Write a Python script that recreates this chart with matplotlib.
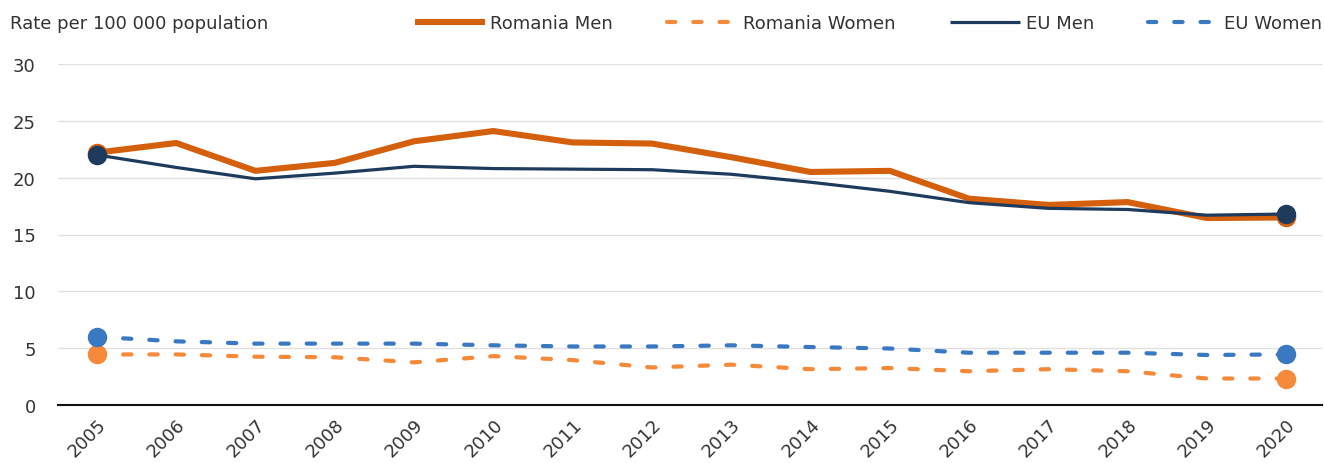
import matplotlib
matplotlib.use("Agg")
import matplotlib.pyplot as plt

plt.rcParams['font.family'] = ['Liberation Sans Narrow', 'DejaVu Sans']

years = list(range(2005, 2021))
romania_men = [22.2, 23.05, 20.6, 21.3, 23.2, 24.1, 23.1, 23.0, 21.8, 20.5, 20.6, 18.15, 17.6, 17.85, 16.45, 16.5]
romania_women = [4.45, 4.45, 4.25, 4.2, 3.75, 4.3, 3.95, 3.3, 3.55, 3.15, 3.25, 2.97, 3.15, 2.97, 2.33, 2.33]
eu_men = [22.0, 20.9, 19.9, 20.4, 21.0, 20.8, 20.75, 20.7, 20.3, 19.6, 18.8, 17.8, 17.3, 17.2, 16.7, 16.8]
eu_women = [6.0, 5.6, 5.4, 5.4, 5.4, 5.25, 5.15, 5.15, 5.25, 5.1, 4.97, 4.6, 4.6, 4.6, 4.4, 4.45]

TEXT = "#333333"
C_RO_MEN = "#D45F0C"
C_RO_WOMEN = "#F58A3A"
C_EU_MEN = "#1E3A5C"
C_EU_WOMEN = "#3A78C2"

fig = plt.figure(figsize=(13.24, 4.64), dpi=100)
ax = fig.add_axes([58 / 1324, 1 - 406 / 464, 1264 / 1324, (406 - 65) / 464])

x = list(range(len(years)))

series = [
    ("Romania Men", romania_men, C_RO_MEN, 4.4, "-", 2),
    ("Romania Women", romania_women, C_RO_WOMEN, 3.0, "--", 2),
    ("EU Men", eu_men, C_EU_MEN, 2.3, "-", 3),
    ("EU Women", eu_women, C_EU_WOMEN, 3.0, "--", 3),
]

for label, vals, color, lw, ls, z in series:
    line, = ax.plot(x, vals, color=color, lw=lw, ls=ls, label=label,
                    solid_capstyle="butt", dash_capstyle="round", zorder=z)
    if ls == "--":
        line.set_dashes((2.0, 4.3))
    # end markers on first and last year
    ax.plot([x[0], x[-1]], [vals[0], vals[-1]], "o", color=color, ms=13,
            mec=color, zorder=z + 2)

ax.set_xlim(-0.49, 15.45)
ax.set_ylim(0, 30)
ax.set_yticks(range(0, 31, 5))
ax.set_xticks(x)
ax.set_xticklabels([str(y) for y in years], rotation=45, ha="right",
                   rotation_mode="anchor")
ax.tick_params(axis="both", length=0, labelsize=13, colors=TEXT)
ax.tick_params(axis="x", pad=7)
ax.tick_params(axis="y", pad=16)

ax.grid(axis="y", color="#e1e1e1", lw=1)
ax.set_axisbelow(True)
for side in ["top", "right", "left"]:
    ax.spines[side].set_visible(False)
ax.spines["bottom"].set_color("#111111")
ax.spines["bottom"].set_linewidth(1.5)
ax.spines["bottom"].set_zorder(1)

fig.text(10 / 1324, 1 - 24 / 464, "Rate per 100 000 population", ha="left",
         va="center", fontsize=13, color=TEXT)

handles, labels = ax.get_legend_handles_labels()
leg = fig.legend(handles, labels, loc="center right", ncol=4,
                 bbox_to_anchor=(1322 / 1324, 1 - 24 / 464), frameon=False,
                 fontsize=13, handlelength=3.9, handletextpad=0.3,
                 columnspacing=3.0, borderaxespad=0, borderpad=0)
for t in leg.get_texts():
    t.set_color(TEXT)

fig.savefig("out.png", dpi=100)
